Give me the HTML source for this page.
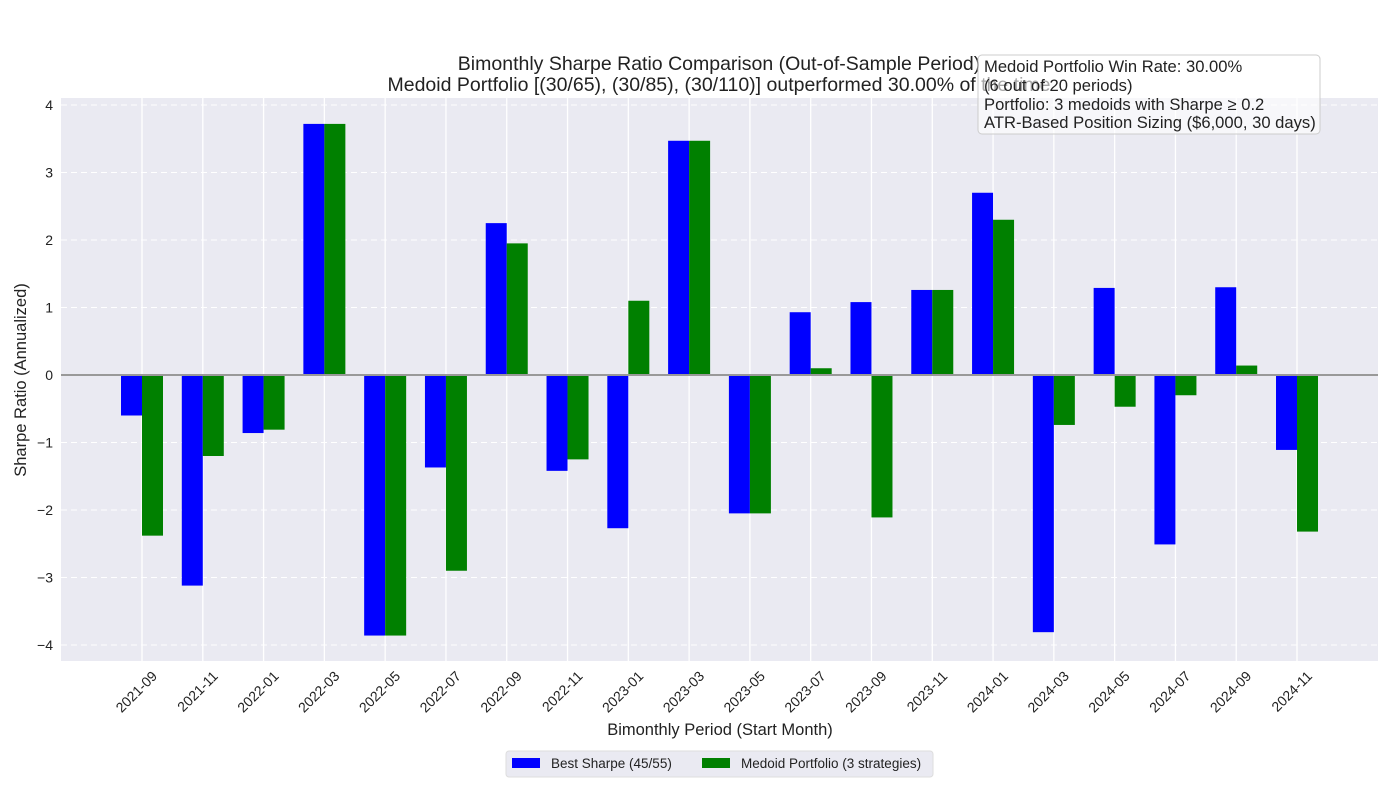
<!DOCTYPE html>
<html><head><meta charset="utf-8"><style>
body{margin:0;background:#fff;font-family:"Liberation Sans","DejaVu Sans",sans-serif;}
svg text{font-family:"Liberation Sans","DejaVu Sans",sans-serif;}
</style></head><body>
<svg id="chart" width="1400" height="800" xmlns="http://www.w3.org/2000/svg">
<rect x="61" y="98" width="1317" height="563" fill="#eaeaf2"/>
<g id="grid"></g><g id="bars"></g><g id="axes"></g>
<text x="719" y="70" text-anchor="middle" font-size="19.5" fill="#222">Bimonthly Sharpe Ratio Comparison (Out-of-Sample Period)</text>
<text x="719" y="91" text-anchor="middle" font-size="19.5" fill="#222">Medoid Portfolio [(30/65), (30/85), (30/110)] outperformed 30.00% of the time</text>
<text x="26" y="380" text-anchor="middle" font-size="16.5" fill="#222" transform="rotate(-90 26 380)">Sharpe Ratio (Annualized)</text>
<text x="720" y="735" text-anchor="middle" font-size="16.5" fill="#222">Bimonthly Period (Start Month)</text>
<g>
<rect x="978" y="55" width="342" height="79" rx="4" fill="#fff" fill-opacity="0.6" stroke="#ccc"/>
<text x="984" y="72" font-size="16.6" fill="#222">Medoid Portfolio Win Rate: 30.00%</text>
<text x="984" y="91" font-size="16.6" fill="#222">(6 out of 20 periods)</text>
<text x="984" y="110" font-size="16.6" fill="#222">Portfolio: 3 medoids with Sharpe ≥ 0.2</text>
<text x="984" y="128" font-size="16.6" fill="#222">ATR-Based Position Sizing ($6,000, 30 days)</text>
</g>
<g>
<rect x="506" y="751" width="427" height="26" rx="3" fill="#eaeaf2" stroke="#ddd"/>
<rect x="512" y="758" width="28" height="10" fill="#0000ff"/>
<text x="551" y="768" font-size="13.5" fill="#222">Best Sharpe (45/55)</text>
<rect x="702" y="758" width="28" height="10" fill="#008000"/>
<text x="741" y="768" font-size="13.5" fill="#222">Medoid Portfolio (3 strategies)</text>
</g>
</svg>
<script>
const categories=["2021-09","2021-11","2022-01","2022-03","2022-05","2022-07","2022-09","2022-11","2023-01","2023-03","2023-05","2023-07","2023-09","2023-11","2024-01","2024-03","2024-05","2024-07","2024-09","2024-11"];
const bestSharpe=[-0.6,-3.12,-0.86,3.72,-3.86,-1.37,2.25,-1.42,-2.27,3.47,-2.05,0.93,1.08,1.26,2.7,-3.81,1.29,-2.51,1.3,-1.11];
const medoidSharpe=[-2.38,-1.2,-0.81,3.72,-3.86,-2.9,1.95,-1.25,1.1,3.47,-2.05,0.1,-2.11,1.26,2.3,-0.74,-0.47,-0.3,0.14,-2.32];
const yTicks=[-4,-3,-2,-1,0,1,2,3,4];
const NS="http://www.w3.org/2000/svg";
const y=v=>375-v*67.5;
const x=i=>142+i*60.79;
const bw=21;
function mk(tag,attrs,parent){const e=document.createElementNS(NS,tag);for(const k in attrs)e.setAttribute(k,attrs[k]);parent.appendChild(e);return e;}
const grid=document.getElementById('grid'),bars=document.getElementById('bars'),axes=document.getElementById('axes');
yTicks.forEach(t=>{
 const l=mk('line',{x1:61,x2:1378,y1:y(t),y2:y(t),stroke:'#fff','stroke-dasharray':'6,4','stroke-width':1},grid);
 
 
 const tx=mk('text',{x:53,y:y(t)+5,'text-anchor':'end','font-size':14,fill:'#222'},axes);
 tx.textContent=(t<0?'\u2212'+(-t):t);
 
 
});
categories.forEach((c,i)=>{
 const g=mk('line',{x1:x(i),x2:x(i),y1:98,y2:661,stroke:'#fff','stroke-width':1.3},grid);
 
 
 const b=bestSharpe[i],m=medoidSharpe[i];
 const rb=mk('rect',{x:x(i)-bw,y:Math.min(y(0),y(b)),width:bw,height:Math.abs(y(b)-y(0)),fill:'#0000ff'},bars);
 
 
 const rm=mk('rect',{x:x(i),y:Math.min(y(0),y(m)),width:bw,height:Math.abs(y(m)-y(0)),fill:'#008000'},bars);
 
 
 const ax=x(i)+16, ay=677;
 const tx=mk('text',{x:ax,y:ay,'text-anchor':'end','font-size':14,fill:'#222',transform:`rotate(-45 ${ax} ${ay})`},axes);
 tx.textContent=c;
 
 
});
const z=mk('line',{x1:61,x2:1378,y1:y(0),y2:y(0),stroke:'#999','stroke-width':2},axes);


</script>
</body></html>
